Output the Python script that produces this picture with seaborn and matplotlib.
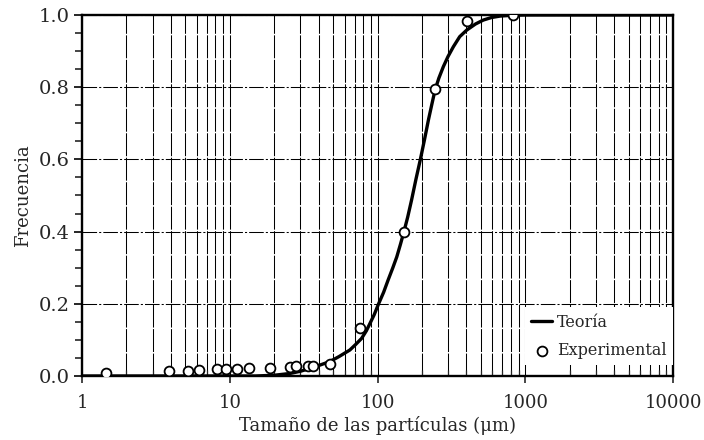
import numpy as np
import pandas as pd
import matplotlib
matplotlib.use("Agg")
import matplotlib.pyplot as plt
from matplotlib.ticker import FixedLocator, NullFormatter
import seaborn as sns

# ---- data ----
theory_x = [1, 5, 10, 15, 20, 25.6, 30, 35, 40, 47.6, 55, 65, 71, 78, 84, 89, 95,
            101, 110, 118, 127, 135, 143, 151, 160, 170, 182, 195, 208, 221, 233,
            245, 260, 279, 300, 326, 360, 401, 460, 520, 590, 675, 800, 1000, 10000]
theory_y = [0.0, 0.0, 0.0, 0.0, 0.002, 0.007, 0.013, 0.021, 0.029, 0.040, 0.054,
            0.072, 0.087, 0.104, 0.125, 0.146, 0.170, 0.197, 0.232, 0.266, 0.300,
            0.330, 0.365, 0.400, 0.440, 0.4875, 0.545, 0.600, 0.655, 0.709, 0.752,
            0.792, 0.825, 0.857, 0.885, 0.912, 0.940, 0.958, 0.975, 0.986, 0.993,
            0.997, 0.999, 1.0, 1.0]

exp_x = [1.45, 3.85, 5.2, 6.2, 8.2, 9.4, 11.2, 13.4, 18.7, 25.6, 28.1, 34.0,
         36.4, 47.6, 76, 150, 245, 405, 820]
exp_y = [0.009, 0.015, 0.014, 0.017, 0.019, 0.019, 0.020, 0.021, 0.021, 0.026,
         0.028, 0.029, 0.029, 0.032, 0.133, 0.40, 0.795, 0.983, 1.0]

x_major = [1, 10, 100, 1000, 10000]
x_labels = ["1", "10", "100", "1000", "10000"]
y_major = [0.0, 0.2, 0.4, 0.6, 0.8, 1.0]
y_labels = ["0.0", "0.2", "0.4", "0.6", "0.8", "1.0"]

xlabel = "Tamaño de las partículas (μm)"
ylabel = "Frecuencia"
label_theory = "Teoría"
label_exp = "Experimental"

# ---- style ----
sns.set_style("white")
plt.rcParams["font.family"] = ["DejaVu Serif"]

fig = plt.figure(figsize=(7.04, 4.4), dpi=100)
ax = fig.add_axes([0.1165, 0.1455, 0.956 - 0.1165, 0.9659 - 0.1455])

df_t = pd.DataFrame({"x": theory_x, "y": theory_y})
df_e = pd.DataFrame({"x": exp_x, "y": exp_y})

sns.lineplot(data=df_t, x="x", y="y", ax=ax, color="black", linewidth=2.4,
             sort=False, estimator=None, label=label_theory, zorder=4)
sns.scatterplot(data=df_e, x="x", y="y", ax=ax, marker="o", s=50,
                facecolor="white", edgecolor="black", linewidth=1.3,
                label=label_exp, zorder=5)

ax.set_xscale("log")
ax.set_xlim(1, 10000)
ax.set_ylim(0, 1)

ax.set_xticks(x_major)
ax.set_xticklabels(x_labels)
minors = [m * d for d in [1, 10, 100, 1000] for m in range(2, 10)]
ax.xaxis.set_minor_locator(FixedLocator(minors))
ax.xaxis.set_minor_formatter(NullFormatter())

ax.set_yticks(y_major)
ax.set_yticklabels(y_labels)
ax.yaxis.set_minor_locator(FixedLocator(list(np.arange(0, 1.0001, 0.05))))

# grid
ax.grid(False)
ax.xaxis.grid(True, which="both", color="black", linewidth=0.75,
              linestyle=(0, (22, 1.5)))
ax.yaxis.grid(True, which="major", color="black", linewidth=0.75,
              linestyle=(0, (14, 2, 2, 2)))

for s in ax.spines.values():
    s.set_visible(True)
    s.set_color("black")
    s.set_linewidth(1.7)

ax.tick_params(axis="x", which="major", direction="out", length=5, width=1.2,
               labelsize=13, pad=8, bottom=True, top=False)
ax.tick_params(axis="x", which="minor", direction="in", length=4, width=0.9,
               bottom=True, top=False)
ax.tick_params(axis="y", which="major", direction="out", length=6, width=1.4,
               labelsize=14, pad=3, left=True, right=False)
ax.tick_params(axis="y", which="minor", direction="out", length=5, width=1.2,
               left=True, right=False)

ax.set_xlabel(xlabel, fontsize=13, labelpad=3)
ax.set_ylabel(ylabel, fontsize=13, labelpad=5)

leg = ax.legend(loc="lower right", bbox_to_anchor=(1.0, 0.03),
                borderaxespad=0.0, frameon=True, fancybox=False,
                framealpha=1.0, facecolor="white", edgecolor="none",
                fontsize=11.5, handlelength=1.3, handletextpad=0.3,
                labelspacing=0.7, borderpad=0.4)

fig.savefig("out.png", dpi=100)
